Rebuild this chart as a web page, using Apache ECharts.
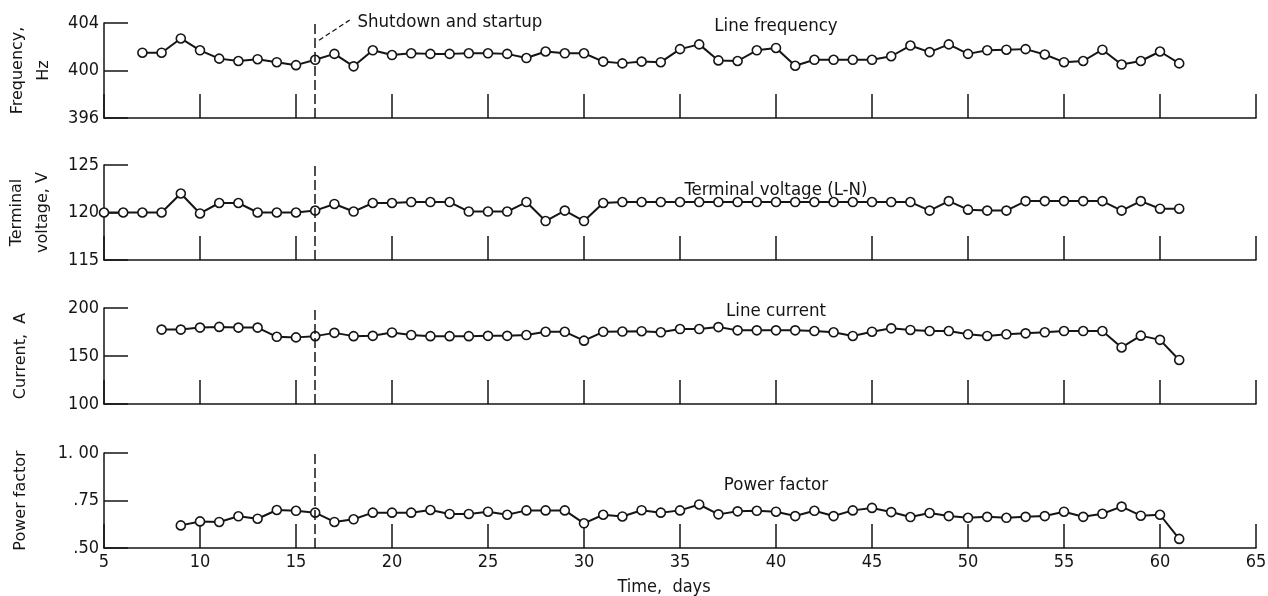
<!DOCTYPE html>
<html><head><meta charset="utf-8">
<script src="https://cdn.jsdelivr.net/npm/echarts@6/dist/echarts.min.js"></script>
<style>html,body{margin:0;padding:0;background:#fff}#c{width:1268px;height:596px}</style>
</head><body><div id="c"></div><script>
// ---- data ----
const days = [5,6,7,8,9,10,11,12,13,14,15,16,17,18,19,20,21,22,23,24,25,26,27,28,29,30,31,32,33,34,35,36,37,38,39,40,41,42,43,44,45,46,47,48,49,50,51,52,53,54,55,56,57,58,59,60,61];
const frequency = [null,null,401.5,401.5,402.7,401.7,401.0,400.8,400.95,400.7,400.45,400.9,401.4,400.35,401.7,401.3,401.45,401.4,401.4,401.45,401.45,401.4,401.05,401.6,401.45,401.45,400.75,400.6,400.75,400.7,401.8,402.2,400.85,400.8,401.7,401.9,400.4,400.9,400.9,400.9,400.9,401.2,402.1,401.55,402.2,401.4,401.7,401.75,401.8,401.35,400.7,400.8,401.75,400.5,400.8,401.6,400.6];
const voltage = [120,120,120,120,122,119.9,121,121,120,120,120,120.2,120.9,120.1,121,121,121.1,121.1,121.1,120.1,120.1,120.1,121.1,119.1,120.2,119.1,121,121.1,121.1,121.1,121.1,121.1,121.1,121.1,121.1,121.1,121.1,121.1,121.1,121.1,121.1,121.1,121.1,120.2,121.2,120.3,120.2,120.2,121.2,121.2,121.2,121.2,121.2,120.2,121.2,120.4,120.4];
const current = [null,null,null,177.5,177.5,179.6,180.3,179.6,179.6,170,169.4,170.7,174.1,170.7,171,174.5,171.8,170.7,170.7,170.7,171,171,171.8,175.2,175.2,166,175.2,175.5,175.8,174.7,178.1,178.1,180.1,176.7,176.7,176.7,176.7,176,174.7,170.9,175.3,178.8,177.1,176,176,172.6,170.9,172.6,173.6,174.7,176,176,176,158.9,171.2,166.8,145.9];
const powerFactor = [null,null,null,null,0.619,0.640,0.637,0.667,0.654,0.700,0.696,0.686,0.637,0.651,0.686,0.686,0.686,0.700,0.679,0.679,0.691,0.675,0.698,0.698,0.698,0.630,0.675,0.666,0.699,0.686,0.698,0.729,0.677,0.693,0.696,0.691,0.668,0.696,0.668,0.698,0.711,0.689,0.663,0.684,0.668,0.659,0.664,0.659,0.664,0.668,0.691,0.664,0.680,0.718,0.670,0.675,0.548];

const xTicks = [5,10,15,20,25,30,35,40,45,50,55,60,65];
const freqTicks = [396,400,404], freqTickLabels = ['396','400','404'];
const voltTicks = [115,120,125], voltTickLabels = ['115','120','125'];
const currTicks = [100,150,200], currTickLabels = ['100','150','200'];
const pfTicks = [0.5,0.75,1.0], pfTickLabels = ['.50','.75','1. 00'];

const seriesNames = ['Line frequency','Terminal voltage (L-N)','Line current','Power factor'];
const axisNames = ['Frequency,\nHz','Terminal\nvoltage, V','Current,  A','Power factor'];
const labelDay = 40;
const labelValues = [403.7, 122.4, 196.5, 0.83];
const shutdownDay = 16;
const shutdownText = 'Shutdown and startup';
const leaderFrom = [16.2, 402.55], leaderTo = [17.8, 404.25];
const shutdownTextAt = [18.2, 404.1];

// ---- chart ----
const FONT = '"DejaVu Sans Condensed","Liberation Sans Narrow",sans-serif';
const NAMEFONT = '"DejaVu Sans",sans-serif';
const INK = '#151515';
const seriesValues = [frequency, voltage, current, powerFactor];
const tickSets = [[freqTicks,freqTickLabels],[voltTicks,voltTickLabels],[currTicks,currTickLabels],[pfTicks,pfTickLabels]];
const grids = [{top:23,height:95},{top:165,height:95},{top:308,height:96},{top:453,height:95}];
const nameGaps = [46, 48, 70, 70];

const chart = echarts.init(document.getElementById('c'), null, {renderer:'canvas'});
const option = {
  animation:false,
  backgroundColor:'#fff',
  grid: grids.map(g=>({left:104,right:12,top:g.top,height:g.height,containLabel:false,outerBoundsMode:'none'})),
  xAxis: grids.map((g,i)=>({
    type:'value', gridIndex:i, min:xTicks[0], max:xTicks[xTicks.length-1], interval:xTicks[1]-xTicks[0],
    axisLine:{show:true,onZero:false,lineStyle:{color:INK,width:1.5}},
    axisTick:{show:true,inside:true,length:24,lineStyle:{color:INK,width:1.5}},
    axisLabel:{show:i===3,color:INK,fontFamily:FONT,fontSize:18,margin:5},
    splitLine:{show:false},
    name: i===3 ? 'Time,  days' : '',
    nameLocation:'middle', nameGap:30,
    nameTextStyle:{color:INK,fontFamily:FONT,fontSize:18,padding:[0,32,0,0]}
  })),
  yAxis: tickSets.map((t,i)=>({
    type:'value', gridIndex:i, min:t[0][0], max:t[0][t[0].length-1], interval:t[0][1]-t[0][0],
    axisLine:{show:true,lineStyle:{color:INK,width:1.5}},
    axisTick:{show:true,inside:true,length:24,lineStyle:{color:INK,width:1.5}},
    axisLabel:{color:INK,fontFamily:FONT,fontSize:18,margin:5,
      formatter:v=>{const k=t[0].findIndex(x=>Math.abs(x-v)<1e-9);return k>=0?t[1][k]:'';}},
    splitLine:{show:false},
    name:axisNames[i], nameLocation:'middle', nameGap:nameGaps[i], nameRotate:90,
    nameTextStyle:{color:INK,fontFamily:NAMEFONT,fontSize:16,lineHeight:26}
  })),
  series: seriesValues.map((vals,i)=>({
    type:'line', xAxisIndex:i, yAxisIndex:i, clip:false,
    data: days.map((d,k)=>[d,vals[k]]).filter(p=>p[1]!==null),
    symbol:'circle', symbolSize:9, showSymbol:true,
    itemStyle:{color:'#fff',borderColor:INK,borderWidth:1.6},
    lineStyle:{color:INK,width:2},
    z:3,
    markLine:{silent:true,symbol:['none','none'],label:{show:false},
      lineStyle:{color:INK,width:1.5,type:[10,4]},
      data:[{xAxis:shutdownDay}]}
  }))
};
chart.setOption(option);

// annotations placed with the library's own scales
const P = (i,pt)=>chart.convertToPixel({xAxisIndex:i,yAxisIndex:i},pt);
const graphics = [];
seriesNames.forEach((n,i)=>{
  const p = P(i,[labelDay,labelValues[i]]);
  graphics.push({type:'text',x:p[0],y:p[1],style:{text:n,fill:INK,font:'18.5px '+FONT,textAlign:'center',textVerticalAlign:'middle'}});
});
const a = P(0,leaderFrom), b = P(0,leaderTo), c = P(0,shutdownTextAt);
graphics.push({type:'line',shape:{x1:a[0],y1:a[1],x2:b[0],y2:b[1]},style:{stroke:INK,lineWidth:1.3,lineDash:[5,3]}});
graphics.push({type:'text',x:c[0],y:c[1],style:{text:shutdownText,fill:INK,font:'18.5px '+FONT,textAlign:'left',textVerticalAlign:'middle'}});
chart.setOption({graphic:graphics});
</script></body></html>
